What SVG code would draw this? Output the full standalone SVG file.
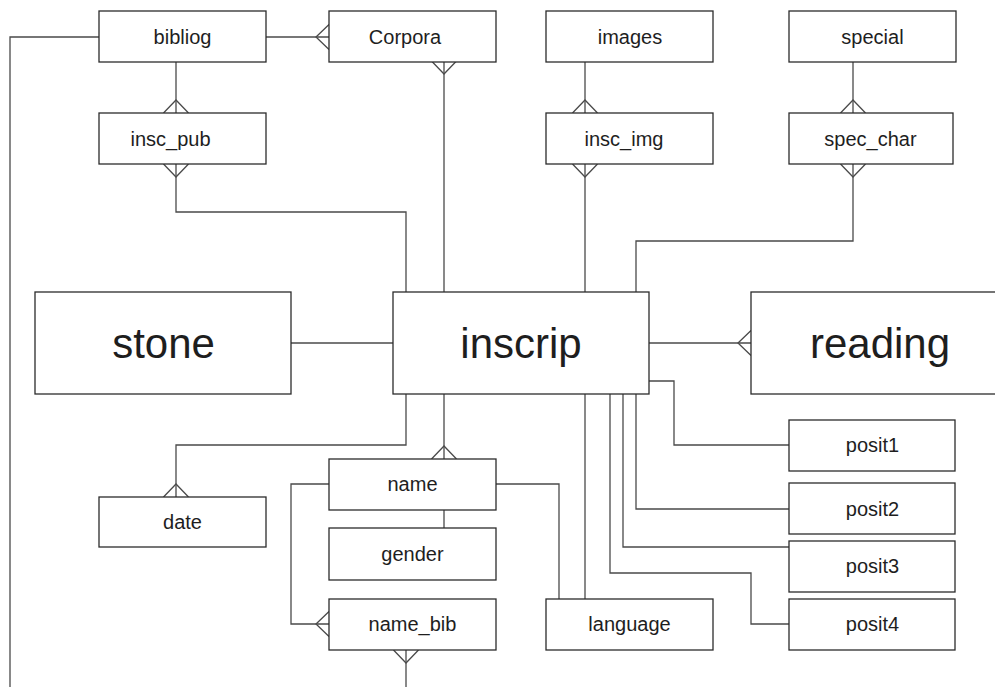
<svg xmlns="http://www.w3.org/2000/svg" width="995" height="687" viewBox="0 0 995 687">
<style>
.box{fill:#fff;stroke:#2b2b2b;stroke-width:1.3}
.ln{fill:none;stroke:#4a4a4a;stroke-width:1.3}
.t{font-family:"Liberation Sans",Arial,sans-serif;font-size:20px;fill:#1e1e1e;text-anchor:middle}
.T{font-family:"Liberation Sans",Arial,sans-serif;font-size:42px;fill:#1e1e1e;text-anchor:middle}
</style>
<defs>
<path id="crow" d="M-12.5 13 L0 0 L12.5 13" fill="none" stroke="#4a4a4a" stroke-width="1.3"/>
</defs>
<rect width="995" height="687" fill="#fff"/>
<g id="connectors">
<path class="ln" d="M99 37 H10 V687"/>
<path class="ln" d="M266 37 H329"/>
<path class="ln" d="M176 62 V113"/>
<path class="ln" d="M176 164 V212 H406 V292"/>
<path class="ln" d="M444 62 V292"/>
<path class="ln" d="M585 62 V113"/>
<path class="ln" d="M585 164 V292"/>
<path class="ln" d="M853 62 V113"/>
<path class="ln" d="M853 164 V241 H636 V292"/>
<path class="ln" d="M291 343 H393"/>
<path class="ln" d="M649 343 H751"/>
<path class="ln" d="M406 394 V445 H176 V497"/>
<path class="ln" d="M444 394 V459"/>
<path class="ln" d="M444 510 V528"/>
<path class="ln" d="M329 484 H291 V624 H329"/>
<path class="ln" d="M406 650 V687"/>
<path class="ln" d="M496 484 H559 V599"/>
<path class="ln" d="M585 394 V599"/>
<path class="ln" d="M649 381 H674 V445 H789"/>
<path class="ln" d="M636 394 V509 H789"/>
<path class="ln" d="M623 394 V547 H789"/>
<path class="ln" d="M610 394 V573 H751 V624 H789"/>
<use href="#crow" transform="translate(316 37) rotate(-90)"/>
<use href="#crow" transform="translate(176 100)"/>
<use href="#crow" transform="translate(176 177) rotate(180)"/>
<use href="#crow" transform="translate(444 74) rotate(180)"/>
<use href="#crow" transform="translate(585 100)"/>
<use href="#crow" transform="translate(585 177) rotate(180)"/>
<use href="#crow" transform="translate(853 100)"/>
<use href="#crow" transform="translate(853 177) rotate(180)"/>
<use href="#crow" transform="translate(738 343) rotate(-90)"/>
<use href="#crow" transform="translate(176 484)"/>
<use href="#crow" transform="translate(444 446)"/>
<use href="#crow" transform="translate(316 624) rotate(-90)"/>
<use href="#crow" transform="translate(406 663) rotate(180)"/>
</g>
<g id="bibliog"><rect class="box" x="99" y="11" width="167" height="51"/><text class="t" x="182.5" y="43.5">bibliog</text></g>
<g id="Corpora"><rect class="box" x="329" y="11" width="167" height="51"/><text class="t" x="405" y="43.5">Corpora</text></g>
<g id="images"><rect class="box" x="546" y="11" width="167" height="51"/><text class="t" x="630" y="43.5">images</text></g>
<g id="special"><rect class="box" x="789" y="11" width="167" height="51"/><text class="t" x="872.5" y="43.5">special</text></g>
<g id="insc_pub"><rect class="box" x="99" y="113" width="167" height="51"/><text class="t" x="170.5" y="145.5">insc_pub</text></g>
<g id="insc_img"><rect class="box" x="546" y="113" width="167" height="51"/><text class="t" x="624" y="145.5">insc_img</text></g>
<g id="spec_char"><rect class="box" x="789" y="113" width="164" height="51"/><text class="t" x="870.5" y="145.5">spec_char</text></g>
<g id="stone"><rect class="box" x="35" y="292" width="256" height="102"/><text class="T" x="163.5" y="358">stone</text></g>
<g id="inscrip"><rect class="box" x="393" y="292" width="256" height="102"/><text class="T" x="521" y="358">inscrip</text></g>
<g id="reading"><rect class="box" x="751" y="292" width="256" height="102"/><text class="T" x="880" y="358">reading</text></g>
<g id="posit1"><rect class="box" x="789" y="420" width="166" height="51"/><text class="t" x="872.5" y="452">posit1</text></g>
<g id="name"><rect class="box" x="329" y="459" width="167" height="51"/><text class="t" x="412.5" y="491">name</text></g>
<g id="posit2"><rect class="box" x="789" y="483" width="166" height="51"/><text class="t" x="872.5" y="515.5">posit2</text></g>
<g id="date"><rect class="box" x="99" y="497" width="167" height="50"/><text class="t" x="182.5" y="529">date</text></g>
<g id="gender"><rect class="box" x="329" y="528" width="167" height="52"/><text class="t" x="412.5" y="560.5">gender</text></g>
<g id="posit3"><rect class="box" x="789" y="541" width="166" height="51"/><text class="t" x="872.5" y="573">posit3</text></g>
<g id="name_bib"><rect class="box" x="329" y="599" width="167" height="51"/><text class="t" x="412.5" y="631">name_bib</text></g>
<g id="language"><rect class="box" x="546" y="599" width="167" height="51"/><text class="t" x="629.5" y="631">language</text></g>
<g id="posit4"><rect class="box" x="789" y="599" width="166" height="51"/><text class="t" x="872.5" y="631">posit4</text></g>
</svg>
